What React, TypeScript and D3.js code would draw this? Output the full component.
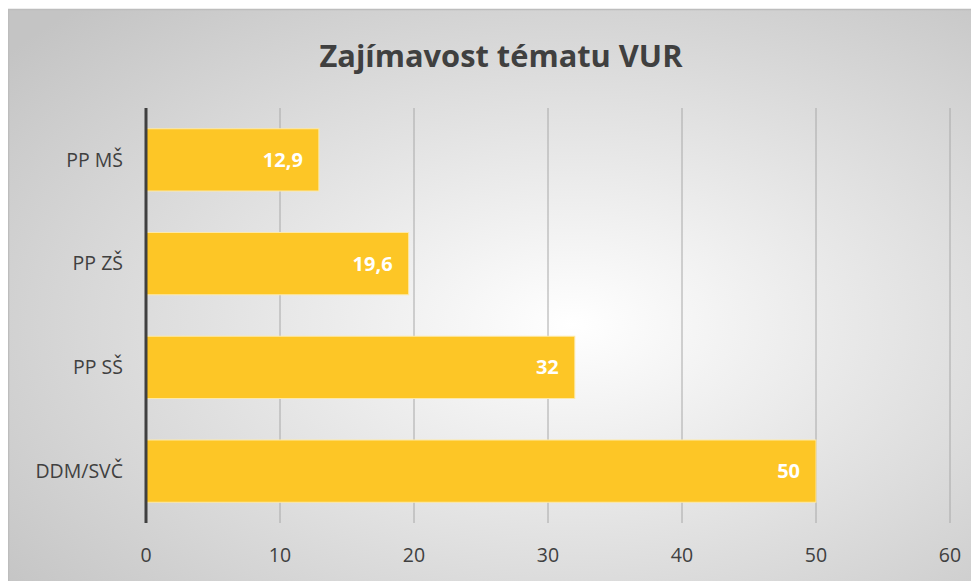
import React from "react";
import * as d3 from "d3";

const categories = ["PP MŠ", "PP ZŠ", "PP SŠ", "DDM/SVČ"];
const values = [12.9, 19.6, 32, 50];
const labels = ["12,9", "19,6", "32", "50"];
const ticks = [0, 10, 20, 30, 40, 50, 60];
const title = "Zajímavost tématu VUR";

const W = 971;
const H = 573;
const OX = 8;
const OY = 8;

export default function App() {
  const x = d3.scaleLinear().domain([0, 60]).range([146 - OX, 950 - OX]);
  const y = d3
    .scaleBand<string>()
    .domain(categories)
    .range([108 - OY, 523 - OY])
    .paddingInner(0.4)
    .paddingOuter(0.2);
  const font = "'Open Sans', sans-serif";
  return (
    <svg width={W} height={H} style={{ display: "block" }}>
      <defs>
        <radialGradient id="bg" cx="0.58" cy="0.55" r="0.75" fx="0.58" fy="0.55">
          <stop offset="0" stopColor="#ffffff" />
          <stop offset="1" stopColor="#c4c4c4" />
        </radialGradient>
      </defs>
      <rect x={0.5} y={1.5} width={W} height={H} fill="url(#bg)" stroke="#bdbdbd" strokeWidth={1.5} />
      <text
        x={501 - OX}
        y={67 - OY}
        textAnchor="middle"
        fontFamily={font}
        fontWeight="bold"
        fontSize={30.8}
        fill="#404040"
      >
        {title}
      </text>
      {ticks.slice(1).map((t) => (
        <line key={t} x1={x(t)} x2={x(t)} y1={108 - OY} y2={523 - OY} stroke="#a8a8a8" strokeWidth={1} />
      ))}
      {categories.map((c, i) => (
        <g key={c}>
          <rect
            x={x(0)}
            y={y(c)!}
            width={x(values[i]) - x(0)}
            height={y.bandwidth()}
            fill="#fdc626"
            stroke="#fde9a8"
            strokeWidth={1}
          />
          <text
            x={x(values[i]) - 16}
            y={y(c)! + y.bandwidth() / 2}
            dy="0.35em"
            textAnchor="end"
            fontFamily={font}
            fontWeight="bold"
            fontSize={20}
            fill="#ffffff"
          >
            {labels[i]}
          </text>
          <text
            x={123 - OX}
            y={y(c)! + y.bandwidth() / 2}
            dy="0.35em"
            textAnchor="end"
            fontFamily={font}
            fontSize={19.5}
            fill="#404040"
          >
            {c}
          </text>
        </g>
      ))}
      <line x1={x(0)} x2={x(0)} y1={108 - OY} y2={523 - OY} stroke="#404040" strokeWidth={3} />
      {ticks.map((t) => (
        <text
          key={t}
          x={x(t)}
          y={555 - OY}
          dy="0.35em"
          textAnchor="middle"
          fontFamily={font}
          fontSize={19.5}
          fill="#404040"
        >
          {t}
        </text>
      ))}
    </svg>
  );
}
